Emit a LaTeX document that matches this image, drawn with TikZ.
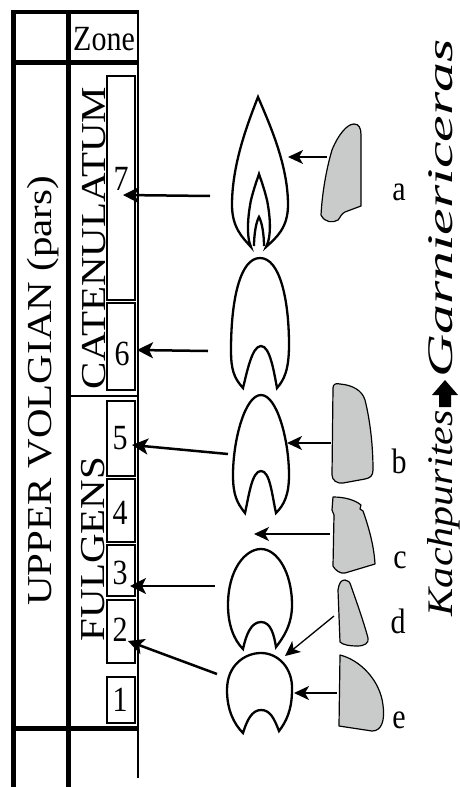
\documentclass[tikz,border=0pt]{standalone}
\usepackage{fontspec}
\setmainfont{Liberation Serif}
\usepackage{graphicx}
\usetikzlibrary{arrows.meta}

\definecolor{fraggray}{RGB}{201,203,203}
\newcommand{\widetxt}[1]{\scalebox{1.17}[1]{#1}}
\newcommand{\talltxt}[1]{\scalebox{1}[1.18]{#1}}

\tikzset{
  thickrule/.style={line width=5pt},
  zonebox/.style={draw, line width=1.2pt},
  zonenum/.style={font=\fontsize{30}{30}\selectfont, inner sep=0pt},
  bigname/.style={font=\fontsize{35}{35}\selectfont, rotate=90, anchor=base, inner sep=0pt},
  genus/.style={font=\fontsize{36}{36}\selectfont\itshape, rotate=90, inner sep=0pt},
  whorl/.style={line width=2.3pt, line join=miter},
  frag/.style={draw, fill=fraggray, line width=1.2pt, line join=round},
  toZone/.style={-{Stealth[length=16pt,width=16pt,inset=4pt]}, line width=2.5pt},
  toWhorl/.style={-{Stealth[length=15pt,width=14pt,inset=4pt]}, line width=1.3pt},
  letter/.style={font=\fontsize{30}{30}\selectfont, anchor=base, inner sep=0pt},
}

\begin{document}
\begin{tikzpicture}[x=1pt,y=-1pt]
  \useasboundingbox (0,0) rectangle (460,787);

  % zone table
  \draw[thickrule] (13,10) -- (13,787);
  \draw[thickrule] (68,10) -- (68,787);
  \draw[line width=2.2pt] (138,10) -- (138,778);
  \draw[line width=3.5pt] (11,12) -- (139,12);
  \draw[thickrule] (11,62) -- (139,62);
  \draw[thickrule] (11,728) -- (139,728);
  \draw[line width=1.5pt] (70,396) -- (138,396);

  \draw[zonebox] (107,76) rectangle (135,300);
  \draw[zonebox] (107,303) rectangle (135,390);
  \draw[zonebox] (107,401) rectangle (135,476);
  \draw[zonebox] (107,479) rectangle (135,542);
  \draw[zonebox] (107,545) rectangle (135,596);
  \draw[zonebox] (107,600) rectangle (135,663);
  \draw[zonebox] (107,677) rectangle (135,723);

  \node[zonenum, anchor=base] (zone) at (104,50) {\talltxt{Zone}};
  \node[zonenum] (n7) at (121,179) {\talltxt{7}};
  \node[zonenum] (n6) at (122,354) {\talltxt{6}};
  \node[zonenum] (n5) at (120,438) {\talltxt{5}};
  \node[zonenum] (n4) at (120,513) {\talltxt{4}};
  \node[zonenum] (n3) at (120,573) {\talltxt{3}};
  \node[zonenum] (n2) at (120,630) {\talltxt{2}};
  \node[zonenum] (n1) at (120,700) {\talltxt{1}};

  \node[bigname] (stage) at (51,391) {\widetxt{UPPER VOLGIAN (pars)}};
  \node[bigname] (catenul) at (105,238) {\widetxt{CATENULATUM}};
  \node[bigname] (fulgens) at (104,549) {\widetxt{FULGENS}};

  % whorl sections
  \draw[whorl] (251,247) .. controls (243,238) and (232,228) .. (232,205)
    .. controls (232,165) and (247,125) .. (258,97)
    .. controls (270,125) and (288,165) .. (288,205)
    .. controls (288,228) and (276,238) .. (266,247)
    .. controls (272,236) and (270,215) .. (267,200)
    .. controls (264,188) and (261,180) .. (259,174)
    .. controls (257,180) and (254,188) .. (251,200)
    .. controls (248,215) and (246,236) .. (251,247) -- cycle;
  \draw[whorl] (254,246) .. controls (254,235) and (256,222) .. (259,217)
    .. controls (262,222) and (264,235) .. (264,246);

  \draw[whorl] (243,388) .. controls (234,378) and (231,370) .. (231,350)
    .. controls (231,300) and (240,258) .. (260,258)
    .. controls (280,258) and (289,300) .. (289,345)
    .. controls (289,370) and (284,380) .. (277,388)
    .. controls (274,372) and (270,346) .. (261,346)
    .. controls (252,346) and (247,372) .. (243,388) -- cycle;

  \draw[whorl] (245,513) .. controls (237,503) and (233,495) .. (233,475)
    .. controls (233,440) and (245,395) .. (261,395)
    .. controls (277,395) and (289,440) .. (289,475)
    .. controls (289,495) and (284,505) .. (276,513)
    .. controls (272,495) and (270,471) .. (261,471)
    .. controls (252,471) and (249,495) .. (245,513) -- cycle;

  \draw[whorl] (243,649) .. controls (234,640) and (228,625) .. (228,605)
    .. controls (228,570) and (245,549) .. (261,549)
    .. controls (277,549) and (292,572) .. (292,605)
    .. controls (292,625) and (283,638) .. (276,647)
    .. controls (274,635) and (271,622) .. (261,622)
    .. controls (251,622) and (246,635) .. (243,649) -- cycle;

  \draw[whorl] (243,733) .. controls (234,724) and (227,710) .. (227,690)
    .. controls (227,665) and (245,653) .. (261,653)
    .. controls (278,653) and (293,668) .. (292,690)
    .. controls (292,710) and (286,722) .. (279,731)
    .. controls (274,718) and (270,710) .. (261,710)
    .. controls (252,710) and (247,720) .. (243,733) -- cycle;

  % shell fragments
  \draw[frag] (321,215) .. controls (322,195) and (326,170) .. (332,150)
    .. controls (338,135) and (347,124) .. (354,124)
    .. controls (359,124) and (361,128) .. (361,135) -- (361,206) -- (345,212)
    .. controls (341,214) and (340,218) .. (338,220)
    .. controls (333,223) and (325,223) .. (321,215) -- cycle;
  \draw[frag] (333,388) .. controls (333,384) and (336,383) .. (340,384)
    .. controls (352,385) and (362,390) .. (365,400)
    .. controls (370,420) and (373,445) .. (373,470)
    .. controls (373,476) and (370,478) .. (365,479) -- (343,483)
    .. controls (337,484) and (332,480) .. (332,475) -- cycle;
  \draw[frag] (333,497) .. controls (345,497) and (355,500) .. (361,505)
    -- (360,509) -- (363,511)
    .. controls (368,525) and (374,545) .. (375,564) -- (345,573)
    .. controls (340,574) and (335,570) .. (333,566) -- (334,515) -- (332,510) -- cycle;
  \draw[frag] (338,590) .. controls (339,583) and (341,580) .. (345,580)
    .. controls (348,580) and (350,582) .. (351,586)
    .. controls (357,603) and (364,623) .. (368,638)
    .. controls (369,643) and (365,646) .. (357,646)
    .. controls (350,646) and (343,645) .. (340,642) -- cycle;
  \draw[frag] (340,655) .. controls (360,660) and (380,680) .. (383,705)
    .. controls (385,720) and (382,731) .. (372,731) -- (339,726) -- cycle;

  \node[letter] (la) at (399,200) {\talltxt{a}};
  \node[letter] (lb) at (399,473) {\talltxt{b}};
  \node[letter] (lc) at (400,568) {\talltxt{c}};
  \node[letter] (ld) at (398,633) {\talltxt{d}};
  \node[letter] (le) at (399,728) {\talltxt{e}};

  % arrows to zones
  \coordinate (w7) at (210,196); \coordinate (t7) at (123,195);
  \coordinate (w6) at (208,351); \coordinate (t6) at (137,350);
  \coordinate (w5) at (228,454); \coordinate (t5) at (132,445);
  \coordinate (w3) at (215,586); \coordinate (t3) at (130,586);
  \coordinate (w2) at (217,674); \coordinate (t2) at (128,641);
  \draw[toZone] (w7) -- (t7);
  \draw[toZone] (w6) -- (t6);
  \draw[toZone] (w5) -- (t5);
  \draw[toZone] (w3) -- (t3);
  \draw[toZone] (w2) -- (t2);

  % arrows from fragments
  \coordinate (fa) at (327,157); \coordinate (ha) at (288,157);
  \coordinate (fb) at (331,443); \coordinate (hb) at (287,443);
  \coordinate (fc) at (330,534); \coordinate (hc) at (254,534);
  \coordinate (fd) at (334,616); \coordinate (hd) at (285,656);
  \coordinate (fe) at (337,693); \coordinate (he) at (294,693);
  \draw[toWhorl] (fa) -- (ha);
  \draw[toWhorl] (fb) -- (hb);
  \draw[toWhorl] (fc) -- (hc);
  \draw[toWhorl] (fd) -- (hd);
  \draw[toWhorl] (fe) -- (he);

  % lineage
  \node[genus, anchor=base west] (garn) at (452,378) {\scalebox{1.66}[1]{Garniericeras}};
  \node[genus, anchor=base east] (kach) at (452,410) {\widetxt{Kachpurites}};
  \fill (439,407) -- (451,407) -- (451,395) -- (458,395) -- (445,380)
    -- (432,395) -- (439,395) -- cycle;
\end{tikzpicture}
\end{document}
